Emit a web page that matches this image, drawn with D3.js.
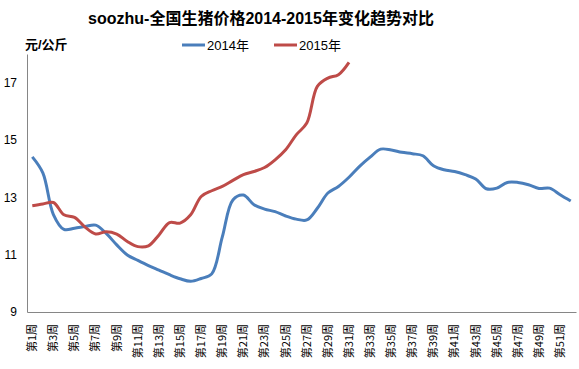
<!DOCTYPE html>
<html>
<head>
<meta charset="utf-8">
<script src="https://cdn.jsdelivr.net/npm/d3@7/dist/d3.min.js"></script>
<style>
  body { margin: 0; background: #fff; }
  svg { display: block; font-family: "Liberation Sans", "Noto Sans CJK SC", sans-serif; }
</style>
</head>
<body>
<svg id="chart" width="579" height="369"></svg>
<script>
// weekly prices, yuan/kg
const weeks = d3.range(1, 53).map(function(i) { return "第" + i + "周"; });

const price2014 = [14.41, 13.85, 12.4, 11.88, 11.92, 11.98, 12.03, 11.74, 11.34, 10.99,
    10.8, 10.62, 10.46, 10.3, 10.16, 10.07, 10.17, 10.33, 11.62, 12.91,
    13.08, 12.74, 12.59, 12.5, 12.35, 12.24, 12.21, 12.62, 13.15, 13.38,
    13.7, 14.08, 14.4, 14.68, 14.65, 14.57, 14.52, 14.45, 14.1, 13.96,
    13.9, 13.79, 13.64, 13.3, 13.32, 13.52, 13.52, 13.44, 13.31, 13.32,
    13.09, 12.87];

const price2015 = [12.71, 12.77, 12.82, 12.39, 12.3, 11.96, 11.72, 11.8, 11.72, 11.46,
    11.28, 11.31, 11.69, 12.12, 12.1, 12.39, 13.03, 13.23, 13.38, 13.59,
    13.79, 13.9, 14.04, 14.31, 14.66, 15.18, 15.59, 16.87, 17.16, 17.28,
    17.71];

const yTicks = [9, 11, 13, 15, 17];

const seriesList = [
    {name: "2014年", values: price2014, color: "#4a7ebb"},
    {name: "2015年", values: price2015, color: "#be4b48"}
];

let svg = d3.select("#chart");

let margin = {top: 54, right: 3, bottom: 57, left: 27},
    width = +svg.attr("width") - margin.left - margin.right,
    height = +svg.attr("height") - margin.top - margin.bottom;

let g = svg.append("g")
    .attr("transform", "translate(" + margin.left + "," + margin.top + ")");

let x = d3.scaleBand().range([0, width]).domain(weeks);
let y = d3.scaleLinear().range([height, 0]).domain([9, 18]);

// title
svg.append("text")
    .attr("x", 261).attr("y", 24)
    .attr("text-anchor", "middle")
    .style("font-size", "16px").style("font-weight", "bold")
    .text("soozhu-全国生猪价格2014-2015年变化趋势对比");

svg.append("text")
    .attr("x", 25).attr("y", 49)
    .style("font-size", "13px").style("font-weight", "bold")
    .text("元/公斤");

// legend
let legend = svg.append("g").selectAll("g")
    .data(seriesList)
    .enter().append("g")
    .attr("transform", function(d, i) { return "translate(" + (182 + i * 92) + ",45)"; });
legend.append("line")
    .attr("x1", 0).attr("x2", 23)
    .attr("stroke", function(d) { return d.color; })
    .attr("stroke-width", 3);
legend.append("text")
    .attr("x", 25).attr("y", 5)
    .style("font-size", "13px")
    .text(function(d) { return d.name; });

// axes
let yAxis = d3.axisLeft(y).tickValues(yTicks).tickSize(0).tickPadding(10);
g.append("g")
    .call(yAxis)
    .call(function(a) {
        a.select(".domain").attr("stroke", "#868686");
        a.selectAll(".tick text").style("font-size", "12px").attr("fill", "#000").attr("font-family", "Liberation Sans");
    });

let xAxis = d3.axisBottom(x)
    .tickValues(weeks.filter(function(d, i) { return i % 2 === 0; }))
    .tickSize(0);
g.append("g")
    .attr("transform", "translate(0," + height + ")")
    .call(xAxis)
    .call(function(a) {
        a.select(".domain").attr("stroke", "#868686");
        a.selectAll(".tick text")
            .style("font-size", "11px")
            .attr("font-family", "Noto Sans CJK SC")
            .attr("fill", "#000")
            .attr("transform", "rotate(-90)")
            .attr("text-anchor", "end")
            .attr("x", -12).attr("y", 0).attr("dy", "0.35em");
    });

// lines
let line = d3.line()
    .x(function(d, i) { return x(weeks[i]) + x.bandwidth() / 2; })
    .y(function(d) { return y(d); })
    .curve(d3.curveCatmullRom.alpha(0.5));

g.selectAll(".series")
    .data(seriesList)
    .enter().append("path")
    .attr("class", "series")
    .attr("fill", "none")
    .attr("stroke", function(d) { return d.color; })
    .attr("stroke-width", 3)
    .attr("stroke-linejoin", "round")
    .attr("d", function(d) { return line(d.values); });
</script>
</body>
</html>
